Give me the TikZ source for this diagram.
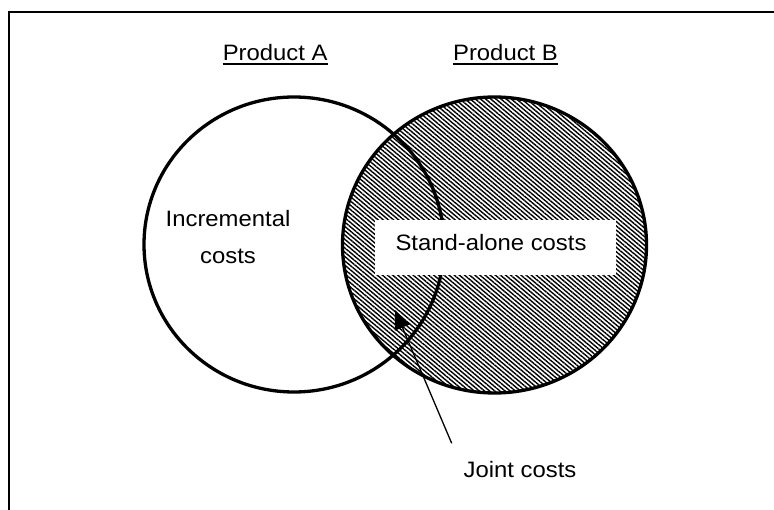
\documentclass[tikz,border=0pt]{standalone}
\usepackage{fontspec}
\setmainfont{Liberation Sans}[FakeStretch=1.07]
\usetikzlibrary{patterns.meta,arrows.meta}
\begin{document}
\begin{tikzpicture}[x=1pt,y=-1pt,
  lbl/.style={font=\fontsize{22.3}{37}\selectfont, inner sep=0pt},
  setline/.style={line width=3.3pt},
  hatch/.style={pattern={Lines[angle=-40,distance=3.3pt,line width=1.4pt]}},
  pointer/.style={line width=1.3pt,-{Triangle[length=19pt,width=16pt]}}]
\useasboundingbox (0,0) rectangle (774,510);

% frame
\draw[line width=2pt] (9,510) |- (774,12);

% headings
\node[lbl, anchor=base] (pa) at (275.2,61) {Product A};
\node[lbl, anchor=base] (pb) at (505.5,61) {Product B};
\draw[line width=1.6pt] ([yshift=-3pt]pa.base west) -- ([yshift=-3pt]pa.base east);
\draw[line width=1.6pt] ([yshift=-3pt]pb.base west) -- ([yshift=-3pt]pb.base east);

% product B, hatched
\fill[hatch] (494.5,245) ellipse [x radius=152, y radius=148];
% outlines of the two cost sets
\draw[setline] (294,244.5) ellipse [x radius=150, y radius=147.5];
\draw[setline] (494.5,245) ellipse [x radius=152, y radius=148];

% labels
\node[lbl, anchor=base, align=center] (inc) at (228,264) {Incremental\\costs};
\node[fill=white, inner sep=0pt, minimum width=241pt, minimum height=55pt] (sabox) at (495.5,247.5) {};
\node[lbl, anchor=base] (sa) at (491,251) {Stand-alone costs};
\node[lbl, anchor=base] (jc) at (520,477) {Joint costs};

% pointer to the overlap
\coordinate (jtail) at (451.7,443.3);
\coordinate (jtip) at (395,310);
\draw[pointer] (jtail) -- (jtip);
\end{tikzpicture}
\end{document}
